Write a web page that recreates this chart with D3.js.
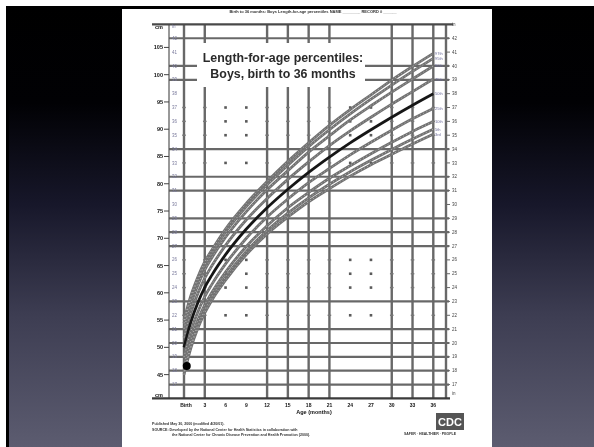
<!DOCTYPE html>
<html>
<head>
<meta charset="utf-8">
<script src="https://cdn.jsdelivr.net/npm/d3@7"></script>
<style>
  html, body { margin: 0; padding: 0; background: #000; }
  svg { display: block; }
</style>
</head>
<body>
<div id="chart"></div>
<script>
// length-for-age percentiles, boys, cm
const months = [0, 1, 2, 3, 4, 6, 9, 12, 15, 18, 21, 24, 27, 30, 33, 36];
const p3  = [45.0, 49.9, 53.5, 56.3, 58.6, 62.3, 67.0, 70.8, 73.9, 76.7, 79.1, 81.4, 83.5, 85.4, 87.3, 89.1];
const p5  = [45.6, 50.5, 54.1, 56.9, 59.2, 62.9, 67.6, 71.4, 74.6, 77.4, 79.9, 82.2, 84.3, 86.3, 88.2, 90.0];
const p10 = [46.6, 51.4, 55.0, 57.8, 60.0, 63.8, 68.5, 72.3, 75.6, 78.4, 81.0, 83.3, 85.5, 87.6, 89.6, 91.4];
const p25 = [48.2, 53.0, 56.5, 59.3, 61.5, 65.3, 70.0, 73.9, 77.2, 80.2, 82.8, 85.3, 87.6, 89.8, 91.9, 93.8];
const p50 = [50.0, 54.7, 58.2, 61.0, 63.2, 67.0, 71.7, 75.6, 79.0, 82.1, 84.9, 87.5, 89.9, 92.2, 94.4, 96.5];
const p75 = [51.8, 56.4, 59.9, 62.7, 64.9, 68.7, 73.4, 77.3, 80.8, 84.0, 87.0, 89.7, 92.2, 94.6, 96.9, 99.2];
const p90 = [53.4, 58.0, 61.4, 64.2, 66.4, 70.2, 74.9, 78.9, 82.4, 85.8, 88.8, 91.7, 94.3, 96.8, 99.2, 101.6];
const p95 = [54.4, 58.9, 62.3, 65.1, 67.2, 71.1, 75.8, 79.8, 83.4, 86.8, 89.9, 92.8, 95.5, 98.1, 100.6, 103.0];
const p97 = [55.0, 59.5, 62.9, 65.7, 67.8, 71.7, 76.4, 80.4, 84.1, 87.5, 90.7, 93.6, 96.3, 99.0, 101.5, 103.9];
const percentiles = [
  {name: '97th', values: p97}, {name: '95th', values: p95}, {name: '90th', values: p90},
  {name: '75th', values: p75}, {name: '50th', values: p50}, {name: '25th', values: p25},
  {name: '10th', values: p10}, {name: '5th', values: p5}, {name: '3rd', values: p3}
];
const birthPoint = [{age: 0.4, length: 46.6}];

const monthTicks = [0, 3, 6, 9, 12, 15, 18, 21, 24, 27, 30, 33, 36];
const monthLabels = ['Birth', '3', '6', '9', '12', '15', '18', '21', '24', '27', '30', '33', '36'];
const solidMonths = [0, 3, 12, 15, 18, 21, 30, 33, 36];
const dottedMonths = [6, 9, 24, 27];
const inchTicks = [17, 18, 19, 20, 21, 22, 23, 24, 25, 26, 27, 28, 29, 30, 31, 32, 33, 34, 35, 36, 37, 38, 39, 40, 41, 42];
const solidInches = [17, 18, 19, 20, 21, 23, 27, 28, 29, 31, 32, 34, 39, 40, 42];
const dotInches = [22, 24, 25, 26, 33, 35, 36, 37];
const cmTicks = [45, 50, 55, 60, 65, 70, 75, 80, 85, 90, 95, 100, 105];

const width = 594;
const height = 447;
const IN = 2.54;

const svg = d3.select('#chart')
  .append('svg')
  .attr('width', width)
  .attr('height', height);

const defs = svg.append('defs');
const bg = defs.append('linearGradient')
  .attr('id', 'bg').attr('x1', 0).attr('x2', 0).attr('y1', 0).attr('y2', 1);
[[0, '#000000'], [0.22, '#010104'], [0.45, '#17172a'], [0.7, '#3d3d52'], [1, '#5c5c70']]
  .forEach(s => bg.append('stop').attr('offset', s[0]).attr('stop-color', s[1]));
defs.append('filter').attr('id', 'soft')
  .append('feGaussianBlur').attr('stdDeviation', 0.35);

// slide background, with the thin white border of the screenshot
svg.append('rect').attr('width', width).attr('height', height).attr('fill', '#fff');
svg.append('rect').attr('x', 6).attr('y', 6).attr('width', width - 6).attr('height', height - 6)
  .attr('fill', 'url(#bg)');
svg.append('rect').attr('x', 6).attr('y', 6).attr('width', 3).attr('height', height - 6).attr('fill', '#000');

// the page
svg.append('rect')
  .attr('x', 122).attr('y', 9).attr('width', 370).attr('height', height - 9)
  .attr('fill', '#fff');

const page = svg.append('g').attr('filter', 'url(#soft)');

const x = d3.scaleLinear().domain([0, 36]).range([184, 433.3]);
const y = d3.scaleLinear().domain([16 * IN, 43 * IN]).range([398.4, 24.4]);
const left = 169, right = 446;
const gridColor = '#686868';

// grid
page.append('g')
  .attr('stroke', gridColor).attr('stroke-width', 2.2)
  .selectAll('line')
  .data(solidInches)
  .join('line')
    .attr('x1', left).attr('x2', right + 3)
    .attr('y1', d => y(d * IN)).attr('y2', d => y(d * IN));

page.append('g')
  .attr('stroke', gridColor).attr('stroke-width', 2.4)
  .selectAll('line')
  .data(solidMonths)
  .join('line')
    .attr('x1', d => x(d)).attr('x2', d => x(d))
    .attr('y1', y(43 * IN)).attr('y2', y(16 * IN));

page.append('g')
  .attr('fill', '#5a5a5a')
  .selectAll('rect')
  .data(d3.cross(dottedMonths, dotInches))
  .join('rect')
    .attr('x', d => x(d[0]) - 1.3).attr('y', d => y(d[1] * IN) - 1.3)
    .attr('width', 2.6).attr('height', 2.6);

page.append('g')
  .attr('fill', '#777')
  .selectAll('rect')
  .data(d3.cross(solidMonths, dotInches))
  .join('rect')
    .attr('x', d => x(d[0]) - 1.8).attr('y', d => y(d[1] * IN) - 0.7)
    .attr('width', 3.6).attr('height', 1.4);

// frame lines
page.append('line').attr('x1', left).attr('x2', left)
  .attr('y1', y(43 * IN)).attr('y2', y(16 * IN))
  .attr('stroke', '#555').attr('stroke-width', 1.2);
page.append('line').attr('x1', right).attr('x2', right)
  .attr('y1', y(43 * IN)).attr('y2', y(16 * IN))
  .attr('stroke', gridColor).attr('stroke-width', 2.4);
page.append('line').attr('x1', 152).attr('x2', 453)
  .attr('y1', y(43 * IN)).attr('y2', y(43 * IN))
  .attr('stroke', '#4a4a4a').attr('stroke-width', 2.4);
page.append('line').attr('x1', 152).attr('x2', 450)
  .attr('y1', y(16 * IN)).attr('y2', y(16 * IN))
  .attr('stroke', '#3a3a3a').attr('stroke-width', 2.4);

// left cm labels (bold)
const cmAxis = page.append('g').attr('font-family', 'Liberation Sans, Arial, sans-serif')
  .attr('font-weight', 'bold').attr('font-size', 5.5).attr('fill', '#111');
cmAxis.selectAll('text')
  .data(cmTicks)
  .join('text')
    .attr('x', 163).attr('y', d => y(d) + 2)
    .attr('text-anchor', 'end')
    .text(d => d);
cmAxis.selectAll('line')
  .data(cmTicks)
  .join('line')
    .attr('x1', 164).attr('x2', left)
    .attr('y1', d => y(d)).attr('y2', d => y(d))
    .attr('stroke', '#444').attr('stroke-width', 1);
cmAxis.append('text').attr('x', 163).attr('y', y(43 * IN) + 5).attr('text-anchor', 'end').text('cm');
cmAxis.append('text').attr('x', 163).attr('y', y(16 * IN) - 1).attr('text-anchor', 'end').text('cm');

// inch labels, inner left and right
const inAxis = page.append('g').attr('font-family', 'Liberation Sans, Arial, sans-serif')
  .attr('font-size', 4.5);
inAxis.selectAll('text.l')
  .data(inchTicks)
  .join('text').attr('class', 'l')
    .attr('x', 172).attr('y', d => y(d * IN) + 1.6)
    .attr('fill', '#7a7a9c')
    .text(d => d);
inAxis.selectAll('text.r')
  .data(inchTicks)
  .join('text').attr('class', 'r')
    .attr('x', 452).attr('y', d => y(d * IN) + 1.6)
    .attr('fill', '#444')
    .text(d => d);
inAxis.selectAll('line')
  .data(inchTicks)
  .join('line')
    .attr('x1', right).attr('x2', right + 4)
    .attr('y1', d => y(d * IN)).attr('y2', d => y(d * IN))
    .attr('stroke', '#666').attr('stroke-width', 1);
inAxis.append('text').attr('x', 172).attr('y', y(43 * IN) + 4).attr('fill', '#7a7a9c').text('in');
inAxis.append('text').attr('x', 452).attr('y', y(43 * IN) + 2).attr('fill', '#444').text('in');
inAxis.append('text').attr('x', 452).attr('y', y(16 * IN) - 3).attr('fill', '#444').text('in');

// title box
page.append('rect').attr('x', 197).attr('y', 43).attr('width', 168).attr('height', 44).attr('fill', '#fff');
const title = page.append('g')
  .attr('font-family', 'Liberation Sans, Arial, sans-serif')
  .attr('font-weight', 'bold').attr('font-size', 12.4).attr('fill', '#2a2a2a')
  .attr('text-anchor', 'middle');
title.append('text').attr('x', 283).attr('y', 62).text('Length-for-age percentiles:');
title.append('text').attr('x', 283).attr('y', 78).text('Boys, birth to 36 months');

// percentile curves
const line = d3.line()
  .x((d, i) => x(months[i]))
  .y(d => y(d))
  .curve(d3.curveMonotoneX);

page.append('g')
  .selectAll('path')
  .data(percentiles)
  .join('path')
    .attr('d', d => line(d.values))
    .attr('fill', 'none')
    .attr('stroke', d => d.name === '50th' ? '#181818' : '#727272')
    .attr('stroke-width', 2.8);

page.append('g')
  .selectAll('path')
  .data(percentiles.filter(d => d.name !== '50th'))
  .join('path')
    .attr('d', d => line(d.values))
    .attr('fill', 'none')
    .attr('stroke', '#d0d0d0').attr('stroke-width', 0.7)
    .attr('stroke-dasharray', '1 2.5');

page.append('g')
  .attr('font-family', 'Liberation Sans, Arial, sans-serif')
  .attr('font-size', 4).attr('fill', '#6c6c9a')
  .selectAll('text')
  .data(percentiles)
  .join('text')
    .attr('x', 435).attr('y', d => y(d.values[d.values.length - 1]) + 1.5)
    .text(d => d.name);

page.append('g')
  .selectAll('circle')
  .data(birthPoint)
  .join('circle')
    .attr('cx', d => x(d.age)).attr('cy', d => y(d.length))
    .attr('r', 4).attr('fill', '#000');

// x axis labels
const xl = page.append('g')
  .attr('font-family', 'Liberation Sans, Arial, sans-serif')
  .attr('font-weight', 'bold').attr('font-size', 5).attr('fill', '#111')
  .attr('text-anchor', 'middle');
xl.selectAll('text')
  .data(monthTicks)
  .join('text')
    .attr('x', (d, i) => x(d) + (i === 0 ? 2 : 0)).attr('y', 407)
    .text((d, i) => monthLabels[i]);
xl.append('text').attr('x', 314).attr('y', 414).attr('font-size', 5.5).text('Age (months)');

// header and footer
const small = page.append('g')
  .attr('font-family', 'Liberation Sans, Arial, sans-serif')
  .attr('font-weight', 'bold').attr('fill', '#333');
small.append('text').attr('x', 313).attr('y', 12.5).attr('font-size', 4).attr('text-anchor', 'middle')
  .text('Birth to 36 months: Boys   Length-for-age percentiles   NAME ________ RECORD # ______');
small.append('text').attr('x', 152).attr('y', 425).attr('font-size', 3.6)
  .text('Published May 30, 2000 (modified 4/20/01).');
small.append('text').attr('x', 152).attr('y', 430.5).attr('font-size', 3.6)
  .text('SOURCE: Developed by the National Center for Health Statistics in collaboration with');
small.append('text').attr('x', 172).attr('y', 436).attr('font-size', 3.6)
  .text('the National Center for Chronic Disease Prevention and Health Promotion (2000).');
small.append('rect').attr('x', 436).attr('y', 413).attr('width', 28).attr('height', 17).attr('fill', '#555');
small.append('text').attr('x', 450).attr('y', 426).attr('font-size', 11).attr('fill', '#fff')
  .attr('text-anchor', 'middle').text('CDC');
small.append('text').attr('x', 430).attr('y', 435).attr('font-size', 3.5).attr('text-anchor', 'middle')
  .text('SAFER · HEALTHIER · PEOPLE');
</script>
</body>
</html>
